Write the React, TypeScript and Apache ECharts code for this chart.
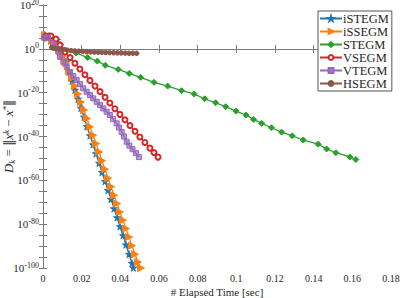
import React, { useEffect, useRef } from "react";
import * as echarts from "echarts";

// Elapsed time [sec] and log10(D_k)
const istegmT = [0.001, 0.0031, 0.0052, 0.0072, 0.0088, 0.0103, 0.0119, 0.0134, 0.015, 0.0165, 0.0181, 0.0196, 0.0212, 0.0227, 0.0243, 0.0259, 0.0274, 0.029, 0.0305, 0.0321, 0.0336, 0.0352, 0.0367, 0.0383, 0.0398, 0.0414, 0.0429, 0.0445, 0.046, 0.0467];
const istegmLog = [6.3, 5.85, 4.9, 4.0, 1.74, -1.9, -6.0, -10.6, -14.7, -18.8, -22.9, -27.0, -31.1, -35.4, -39.6, -43.7, -47.8, -52.1, -56.3, -60.4, -64.5, -68.6, -72.9, -77.0, -81.1, -85.2, -89.4, -93.7, -97.8, -99.9];

const issegmT = [0.001, 0.0026, 0.0047, 0.0067, 0.0088, 0.0103, 0.0119, 0.0134, 0.015, 0.0165, 0.0181, 0.0196, 0.0212, 0.0227, 0.0243, 0.0259, 0.0274, 0.029, 0.0305, 0.0321, 0.0336, 0.0352, 0.0367, 0.0383, 0.0398, 0.0414, 0.0429, 0.0445, 0.046, 0.0476, 0.0491, 0.0507];
const issegmLog = [6.3, 4.9, 3.6, 2.2, -0.55, -3.3, -6.5, -10.1, -13.3, -17.0, -20.6, -24.3, -27.9, -31.8, -35.6, -39.4, -43.2, -47.1, -51.0, -54.9, -59.0, -62.9, -66.8, -70.6, -74.5, -78.2, -82.0, -85.9, -89.8, -93.7, -97.3, -100];

const stegmT = [0.0053, 0.0114, 0.0171, 0.0231, 0.0281, 0.0322, 0.0389, 0.0446, 0.0505, 0.0574, 0.0645, 0.0717, 0.0782, 0.0836, 0.0893, 0.0945, 0.0998, 0.105, 0.1089, 0.1131, 0.1182, 0.1234, 0.1289, 0.1346, 0.1423, 0.1467, 0.1515, 0.1587, 0.1618];
const stegmLog = [0.37, -0.55, -1.9, -4.0, -5.6, -7.5, -9.4, -11.2, -13.0, -15.3, -17.0, -19.1, -20.6, -22.8, -24.6, -26.4, -28.4, -30.2, -32.2, -34.0, -36.0, -38.0, -39.7, -41.6, -43.5, -45.7, -47.4, -49.3, -50.5];

const vsegmT = [0.0016, 0.0041, 0.0067, 0.0088, 0.0114, 0.014, 0.0165, 0.0191, 0.0217, 0.0243, 0.0269, 0.0295, 0.0321, 0.0346, 0.0372, 0.0398, 0.0424, 0.045, 0.0476, 0.0501, 0.0527, 0.0553, 0.0574, 0.0595];
const vsegmLog = [5.85, 5.85, 4.5, 1.74, -1.46, -4.0, -6.6, -9.2, -11.8, -14.4, -17.0, -19.5, -22.1, -24.7, -27.3, -29.9, -32.4, -35.0, -37.6, -40.2, -42.7, -45.3, -47.3, -49.4];

const vtegmT = [0.0005, 0.0026, 0.0052, 0.0067, 0.0079, 0.0088, 0.0105, 0.0123, 0.014, 0.0157, 0.0174, 0.0191, 0.0208, 0.0226, 0.0243, 0.026, 0.0278, 0.0295, 0.0312, 0.0329, 0.0346, 0.0363, 0.0381, 0.0393, 0.0407, 0.0419, 0.0433, 0.0447, 0.0463, 0.0481, 0.0496];
const vtegmLog = [5.07, 5.07, 2.65, 0.37, -1.3, -3.6, -5.9, -8.2, -10.6, -12.4, -14.2, -16.1, -18.0, -19.6, -21.1, -22.6, -24.2, -25.7, -27.2, -28.7, -30.2, -32.1, -34.0, -35.9, -37.9, -40.0, -42.4, -44.2, -45.8, -47.6, -49.4];

const hsegmT = [0.0045, 0.0065, 0.0085, 0.0105, 0.0125, 0.0145, 0.0165, 0.0185, 0.0205, 0.0225, 0.0245, 0.0265, 0.0285, 0.0305, 0.0325, 0.0345, 0.0365, 0.0385, 0.0405, 0.0425, 0.0445, 0.0465, 0.0485];
const hsegmLog = [0.6, 0.2, -0.1, -0.4, -0.6, -0.8, -0.95, -1.1, -1.2, -1.3, -1.4, -1.5, -1.55, -1.6, -1.7, -1.75, -1.8, -1.85, -1.9, -1.95, -2.0, -2.0, -2.05];

const seriesNames = ["iSTEGM", "iSSEGM", "STEGM", "VSEGM", "VTEGM", "HSEGM"];
const xTicks = [0, 0.02, 0.04, 0.06, 0.08, 0.1, 0.12, 0.14, 0.16, 0.18];
const yExponents = [20, 0, -20, -40, -60, -80, -100];

const STAR = "path://M50,0 L61,35 L98,35 L68,57 L79,91 L50,70 L21,91 L32,57 L2,35 L39,35 Z";
const SERIF = "Liberation Serif";

function zip(t: number[], v: number[]) {
  return t.map((x, i) => [x, v[i]]);
}

export default function App() {
  const ref = useRef<HTMLDivElement>(null);
  useEffect(() => {
    if (!ref.current) return;
    const chart = echarts.init(ref.current, undefined, { renderer: "svg" });
    const axisColor = "#7a7a7a";
    const textColor = "#262626";
    const mkLine = (name: string, color: string, data: number[][], symbol: string, size: number, extra: any = {}) => ({
      name,
      type: "line",
      data,
      symbol,
      symbolSize: size,
      lineStyle: { color, width: 1.3 },
      itemStyle: { color, borderColor: color, borderWidth: 1, ...(extra.itemStyle || {}) },
      symbolRotate: extra.symbolRotate || 0,
      showAllSymbol: true,
      clip: true,
    });
    const yMin = yExponents[yExponents.length - 1];
    const yMax = yExponents[0];
    chart.setOption({
      animation: false,
      backgroundColor: "#fff",
      grid: { left: 43, right: 11, top: 5, bottom: 30, outerBoundsMode: "none", containLabel: false },
      legend: {
        orient: "vertical",
        left: 318,
        top: 11,
        data: seriesNames,
        itemWidth: 22,
        itemHeight: 6,
        itemGap: 0,
        padding: [1, 3, 1, 1],
        borderColor: "#555",
        borderWidth: 1,
        backgroundColor: "#fff",
        textStyle: { fontFamily: SERIF, fontSize: 12.5, lineHeight: 13, color: textColor, padding: [0, 0, 0, -4] },
      },
      xAxis: [
        {
          type: "value",
          min: xTicks[0],
          max: xTicks[xTicks.length - 1],
          interval: 0.02,
          name: "# Elapsed Time [sec]",
          nameLocation: "middle",
          nameGap: 18,
          nameMoveOverlap: false,
          nameTextStyle: { fontFamily: SERIF, fontSize: 11, color: textColor },
          axisLine: { show: true, lineStyle: { color: axisColor } },
          axisTick: { show: true, inside: true, length: 4, lineStyle: { color: axisColor } },
          axisLabel: { fontFamily: SERIF, fontSize: 10, color: textColor, margin: 5, formatter: (v: number) => String(+v.toFixed(2)) },
          splitLine: { show: false },
        },
        {
          type: "value",
          position: "top",
          min: xTicks[0],
          max: xTicks[xTicks.length - 1],
          interval: 0.02,
          axisLine: { show: true, lineStyle: { color: axisColor } },
          axisTick: { show: true, inside: true, length: 4, lineStyle: { color: axisColor } },
          axisLabel: { show: false },
          splitLine: { show: false },
        },
      ],
      yAxis: [
        {
          type: "value",
          min: yMin,
          max: yMax,
          interval: 20,
          name: "{i|D}{sub|k}{n| = }{b|‖}{i|x}{sup|k}{n| − }{i|x}{sup|*}{b|‖}",
          nameLocation: "middle",
          nameRotate: 90,
          nameGap: 27,
          nameMoveOverlap: false,
          nameTextStyle: {
            color: textColor,
            rich: {
              i: { fontFamily: SERIF, fontStyle: "italic", fontSize: 13, color: textColor },
              n: { fontFamily: SERIF, fontSize: 13, color: textColor },
              b: { fontFamily: "DejaVu Serif", fontSize: 12, color: textColor },
              sub: { fontFamily: SERIF, fontStyle: "italic", fontSize: 9, color: textColor, verticalAlign: "bottom", padding: [6, 0, 0, 0] },
              sup: { fontFamily: SERIF, fontStyle: "italic", fontSize: 9, color: textColor, verticalAlign: "top", padding: [0, 0, 6, 0] },
            },
          },
          axisLine: { show: true, lineStyle: { color: axisColor } },
          axisTick: { show: true, inside: true, length: 4, lineStyle: { color: axisColor } },
          minorTick: { show: true, splitNumber: 4, length: 4, lineStyle: { color: axisColor } },
          axisLabel: {
            margin: 4,
            formatter: (v: number) => `{b|10}{s|${v}}`,
            rich: {
              b: { fontFamily: SERIF, fontSize: 11, color: textColor },
              s: { fontFamily: SERIF, fontSize: 8, color: textColor, verticalAlign: "top", padding: [0, 0, 6, 0] },
            },
          },
          splitLine: { show: false },
        },
        {
          type: "value",
          position: "right",
          min: yMin,
          max: yMax,
          interval: 20,
          axisLine: { show: true, lineStyle: { color: axisColor } },
          axisTick: { show: true, inside: true, length: 4, lineStyle: { color: axisColor } },
          minorTick: { show: true, splitNumber: 4, length: 4, lineStyle: { color: axisColor } },
          axisLabel: { show: false },
          splitLine: { show: false },
        },
      ],
      series: [
        mkLine(seriesNames[0], "#1f77b4", zip(istegmT, istegmLog), STAR, 7),
        mkLine(seriesNames[1], "#ff7f0e", zip(issegmT, issegmLog), "triangle", 7, { symbolRotate: -90 }),
        mkLine(seriesNames[2], "#2ca02c", zip(stegmT, stegmLog), "diamond", 6),
        mkLine(seriesNames[3], "#d62728", zip(vsegmT, vsegmLog), "emptyCircle", 5),
        mkLine(seriesNames[4], "#9467bd", zip(vtegmT, vtegmLog), "rect", 5, { itemStyle: { color: "rgba(148,103,189,0.65)" } }),
        mkLine(seriesNames[5], "#8c564b", zip(hsegmT, hsegmLog), "circle", 4.5),
      ],
    });
    return () => chart.dispose();
  }, []);
  return <div ref={ref} style={{ position: "fixed", left: 0, top: 0, width: 402, height: 298 }} />;
}
